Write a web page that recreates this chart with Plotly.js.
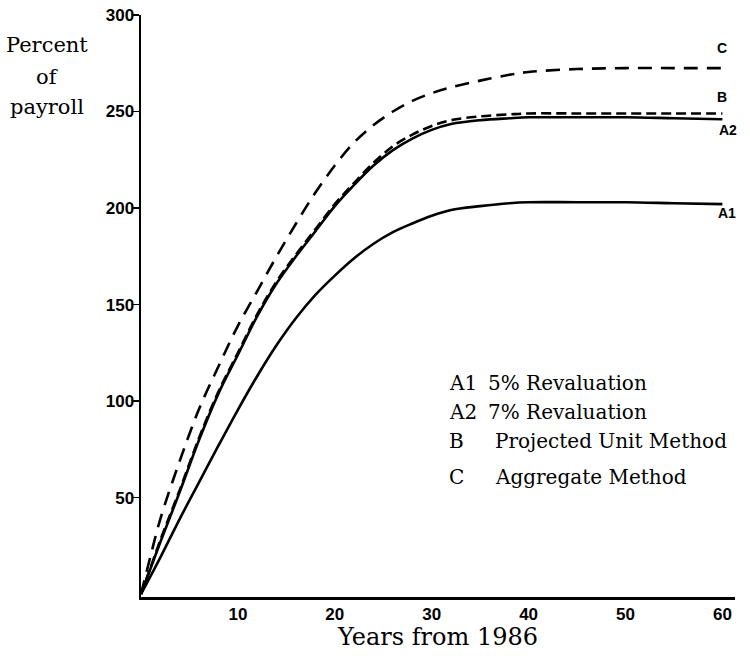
<!DOCTYPE html>
<html>
<head>
<meta charset="utf-8">
<script src="https://cdn.plot.ly/plotly-3.0.1.min.js"></script>
<style>html,body{margin:0;padding:0;background:#fff;}#chart{width:750px;height:656px;}</style>
</head>
<body>
<div id="chart"></div>
<script>
// Years from 1986
var years = [0, 1, 2, 4, 6, 8, 10, 12, 14, 16, 18, 20, 22, 24, 26, 28, 30, 32, 35, 38, 40, 45, 50, 55, 60];
// A1: 5% Revaluation
var a1 = [0, 9.5, 19, 39, 58, 77, 95.5, 113, 129, 143, 155, 165, 174, 181.5, 187.5, 192, 196, 199, 201, 202.5, 203, 203, 203, 202.5, 202];
// A2: 7% Revaluation
var a2 = [0, 13.5, 27, 53, 80, 104, 124, 144, 161, 175, 188, 201, 212, 222, 230, 236, 240.5, 243.5, 245.5, 246.5, 247, 247, 247, 246.5, 246];
// B: Projected Unit Method
var b = [0, 14, 28, 54, 81, 105, 125, 145, 162, 176, 189, 202, 213, 223.5, 232, 238, 242.5, 245.5, 247.5, 248.5, 249, 249, 249, 249, 249];
// C: Aggregate Method
var c = [0, 20, 39, 69, 96, 118, 139, 157, 175, 192, 208, 222, 234, 243, 250, 255.5, 259.5, 262.5, 266, 269, 270.5, 272, 272.5, 272.5, 272.5];

var xTicks = [10, 20, 30, 40, 50, 60];
var yTicks = [50, 100, 150, 200, 250, 300];

var curveLabels = ['A1', 'A2', 'B', 'C'];
var legendCodes = ['A1', 'A2', 'B', 'C'];
var legendTexts = ['5% Revaluation', '7% Revaluation', 'Projected Unit Method', 'Aggregate Method'];

var serif = 'DejaVu Serif, serif';
var sans = 'Liberation Sans, Arial, sans-serif';

var traces = [
  {x: years, y: a1, mode: 'lines', line: {color: '#000', width: 2.6, shape: 'spline'}, name: 'A1'},
  {x: years, y: a2, mode: 'lines', line: {color: '#000', width: 2.6, shape: 'spline'}, name: 'A2'},
  {x: years, y: b, mode: 'lines', line: {color: '#000', width: 2.6, dash: '10px,5px', shape: 'spline'}, name: 'B'},
  {x: years, y: c, mode: 'lines', line: {color: '#000', width: 2.6, dash: '14px,9px', shape: 'spline'}, name: 'C'}
];

var L = 141, T = 15, W = 594, H = 582;
function px(xp) { return (xp - L) / W; }
function py(yp) { return (T + H - yp) / H; }

var anns = [];
// y title
['Percent', 'of', 'payroll'].forEach(function (t, i) {
  anns.push({xref: 'paper', yref: 'paper', x: px(47), y: py([45, 77, 107][i]),
    xanchor: 'center', yanchor: 'middle', text: t, showarrow: false,
    font: {family: serif, size: 21, color: '#000'}});
});
// x title
anns.push({xref: 'paper', yref: 'paper', x: px(437), y: py(637), xanchor: 'center', yanchor: 'middle',
  text: 'Years from 1986', showarrow: false, font: {family: serif, size: 24, color: '#000'}});
// curve end labels
var endVals = [a1[a1.length - 1], a2[a2.length - 1], b[b.length - 1], c[c.length - 1]];
var labShiftY = [-9, -11, 16, 20];
var labShiftX = [5, 6, 0, 0];
for (var i = 0; i < curveLabels.length; i++) {
  anns.push({x: 60, y: endVals[i], xref: 'x', yref: 'y', text: '<b>' + curveLabels[i] + '</b>',
    showarrow: false, xanchor: 'center', yanchor: 'middle', xshift: labShiftX[i], yshift: labShiftY[i],
    font: {family: sans, size: 14, color: '#000'}});
}
// legend text
var legY = [383, 412, 441, 477];
var legX2 = [486, 486, 493, 493];
for (var j = 0; j < legendCodes.length; j++) {
  anns.push({xref: 'paper', yref: 'paper', x: px(447), y: py(legY[j]), xanchor: 'left', yanchor: 'middle',
    text: legendCodes[j], showarrow: false, font: {family: serif, size: 20, color: '#000'}});
  anns.push({xref: 'paper', yref: 'paper', x: px(legX2[j]), y: py(legY[j]), xanchor: 'left', yanchor: 'middle',
    text: legendTexts[j], showarrow: false, font: {family: serif, size: 20, color: '#000'}});
}

var layout = {
  width: 750, height: 656,
  margin: {l: L, r: 750 - L - W, t: T, b: 656 - T - H},
  paper_bgcolor: '#fff', plot_bgcolor: '#fff',
  showlegend: false,
  xaxis: {
    range: [0, 61.3], showgrid: false, zeroline: false, showline: true, linecolor: '#000', linewidth: 2.5,
    tickmode: 'array', tickvals: xTicks, ticktext: xTicks.map(String), ticks: '',
    tickfont: {family: sans, size: 17, color: '#000', weight: 'bold'}
  },
  yaxis: {
    range: [-1.5, 300], showgrid: false, zeroline: false, showline: true, linecolor: '#000', linewidth: 2.5,
    tickmode: 'array', tickvals: yTicks, ticktext: yTicks.map(String), ticks: 'outside', ticklen: 6, tickwidth: 1.5,
    tickcolor: '#000', ticklabelstandoff: -5, tickfont: {family: sans, size: 17, color: '#000', weight: 'bold'}
  },
  annotations: anns
};

Plotly.newPlot('chart', traces, layout, {displayModeBar: false, staticPlot: true});
</script>
</body>
</html>
